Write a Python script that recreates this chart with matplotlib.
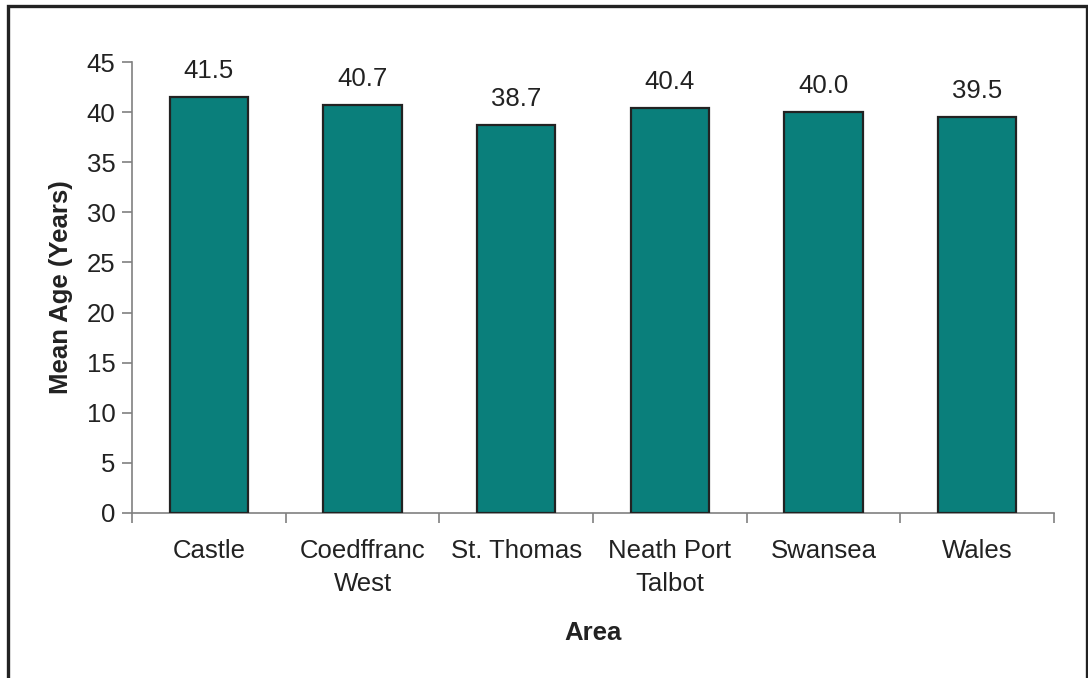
import matplotlib.pyplot as plt
from matplotlib.patches import Rectangle
import numpy as np

areas = ["Castle", "Coedffranc\nWest", "St. Thomas", "Neath Port\nTalbot", "Swansea", "Wales"]
mean_age = [41.5, 40.7, 38.7, 40.4, 40.0, 39.5]
yticks = [0, 5, 10, 15, 20, 25, 30, 35, 40, 45]

plt.rcParams['font.family'] = ['Liberation Sans', 'DejaVu Sans']
fs = 18.5
txt_col = "#222222"

fig = plt.figure(figsize=(10.88, 6.78), dpi=100)
ax = fig.add_axes([132/1088, 1 - 513/678, (1054 - 132)/1088, (513 - 62)/678])

x = np.arange(len(areas))
bars = ax.bar(x, mean_age, width=0.51, color="#0a7f7b", edgecolor=txt_col, linewidth=1.6, zorder=3)

for xi, v in zip(x, mean_age):
  ax.annotate(f"{v:.1f}", (xi, v), xytext=(0, 10), textcoords="offset points",
              ha="center", va="bottom", fontsize=fs, color=txt_col)

axis_col = "#808080"
ax.set_xlim(-0.5, len(areas) - 0.5)
ax.set_ylim(0, 45)
ax.set_yticks(yticks)
ax.set_yticklabels([str(t) for t in yticks], fontsize=fs, color=txt_col)
ax.tick_params(axis="y", length=7, width=1.2, color=axis_col, pad=5)

# category labels sit between boundary ticks
ax.set_xticks(x)
ax.set_xticklabels(areas, fontsize=fs, color=txt_col, linespacing=1.45)
ax.tick_params(axis="x", length=0, pad=19)
ax.set_xticks(np.arange(len(areas) + 1) - 0.5, minor=True)
ax.tick_params(axis="x", which="minor", length=7, width=1.2, color=axis_col)

for s in ["top", "right"]:
  ax.spines[s].set_visible(False)
for s in ["left", "bottom"]:
  ax.spines[s].set_color(axis_col)
  ax.spines[s].set_linewidth(1.2)

ax.set_xlabel("Area", fontsize=fs, fontweight="bold", color=txt_col, labelpad=18)
ax.set_ylabel("Mean Age (Years)", fontsize=fs, fontweight="bold", color=txt_col, labelpad=10)

# outer frame around the chart
fig.patches.append(Rectangle((8/1088, -0.05), (1087 - 8)/1088, 1.05 - 6/678,
                             transform=fig.transFigure, fill=False,
                             edgecolor=txt_col, linewidth=2.4))

fig.savefig("out.png", dpi=100)
